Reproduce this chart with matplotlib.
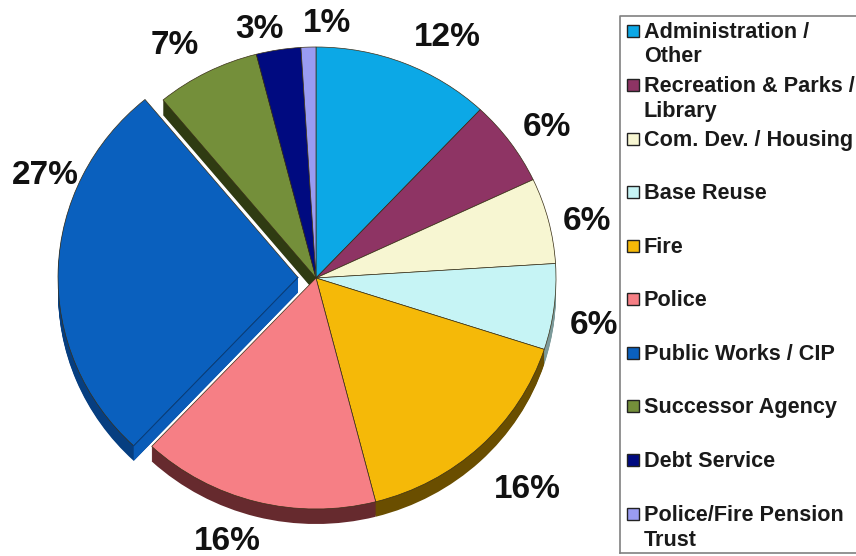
import numpy as np
import matplotlib
matplotlib.use("Agg")
import matplotlib.pyplot as plt
from matplotlib.patches import Polygon, Rectangle

plt.rcParams["font.family"] = ["Liberation Sans", "DejaVu Sans"]

# Budget shares, clockwise from twelve o'clock
categories = ["Administration /\nOther", "Recreation & Parks /\nLibrary",
              "Com. Dev. / Housing", "Base Reuse", "Fire", "Police",
              "Public Works / CIP", "Successor Agency", "Debt Service",
              "Police/Fire Pension\nTrust"]
shares = [12, 6, 6, 6, 16, 16, 27, 7, 3, 1]
colors = ["#0CA8E6", "#8E3464", "#F7F6D2", "#C6F4F5", "#F5B908",
          "#F67F85", "#0A60BE", "#748F3A", "#000A80", "#9A9CF2"]
wall_colors = ["#066A92", "#5A2040", "#9A9A80", "#7C9A9A", "#6A4E00",
               "#662A2E", "#063E80", "#2F3B12", "#00064A", "#5A5C9A"]

W, H = 856, 556
CX, CY = 316, 278       # pie centre in pixels
RX, RY = 240, 231       # horizontal and vertical radius in pixels
DEPTH = 15              # height of the pie's side wall in pixels
EXPLODE_PX = 18
explode = [EXPLODE_PX / RX if s == 27 else 0 for s in shares]

fig = plt.figure(figsize=(W / 100, H / 100), dpi=100)
ax = fig.add_axes([0, 0, 1, 1])

# The wall is a stack of darker pies stepping up to the top face
for d in np.arange(DEPTH, 0, -1):
    ax.pie(shares, colors=wall_colors, startangle=90, counterclock=False,
           explode=explode, center=(0, -d / RY), radius=1,
           wedgeprops={"linewidth": 0})

ax.pie(shares, colors=colors, startangle=90, counterclock=False,
       explode=explode, center=(0, 0), radius=1,
       wedgeprops={"linewidth": 0.5, "edgecolor": "#3A3018"})

ax.set_aspect("auto")
ax.set_xlim(-CX / RX, (W - CX) / RX)
ax.set_ylim(-(H - CY) / RY, CY / RY)

# Lit cut face along the lower radial edge of the pulled-out slice
idx = shares.index(27)
start = 2 * np.pi * sum(shares[:idx]) / sum(shares)
mid = start + np.pi * shares[idx] / sum(shares)
ox, oy = explode[idx] * np.sin(mid), explode[idx] * np.cos(mid)
ex, ey = np.sin(start), np.cos(start)
dz = DEPTH / RY
ax.add_patch(Polygon([(ox, oy), (ox + ex, oy + ey),
                      (ox + ex, oy + ey - dz), (ox, oy - dz)],
                     closed=True, facecolor="#0A5CB8", edgecolor="none",
                     zorder=5))
ax.plot([ox, ox + ex], [oy, oy + ey], color="#063E80", lw=0.7, zorder=6)

# Overlay in pixel coordinates for the percentage labels and legend box
ov = fig.add_axes([0, 0, 1, 1], facecolor="none")
ov.set_xlim(0, W)
ov.set_ylim(H, 0)
ov.axis("off")

label_xy = [(447, 38), (547, 127), (587, 221), (594, 325), (527, 489),
            (227, 541), (45, 175), (175, 45), (259, 29), (327, 24)]
for s, (x, y) in zip(shares, label_xy):
    ov.text(x, y, f"{s}%", fontsize=24, fontweight="bold", color="#111111",
            ha="center", va="center")

ov.plot([620, 620, W], [553, 16, 16], color="#808080", lw=1.2)
ov.plot([620, W], [553, 553], color="#808080", lw=1.2)

legend_y = [31, 85, 139, 192, 246, 299, 353, 406, 460, 514]
for name, c, y in zip(categories, colors, legend_y):
    ov.add_patch(Rectangle((627, y - 6), 12, 12, facecolor=c,
                           edgecolor="#222222", lw=1))
    first, *rest = name.split("\n")
    ov.text(644, y + 1.5, first, fontsize=15.6, fontweight="bold",
            color="#1A1A1A", ha="left", va="center")
    for line in rest:
        ov.text(644, y + 26, line, fontsize=15.6, fontweight="bold",
                color="#1A1A1A", ha="left", va="center")

fig.savefig("out.png", dpi=100)
